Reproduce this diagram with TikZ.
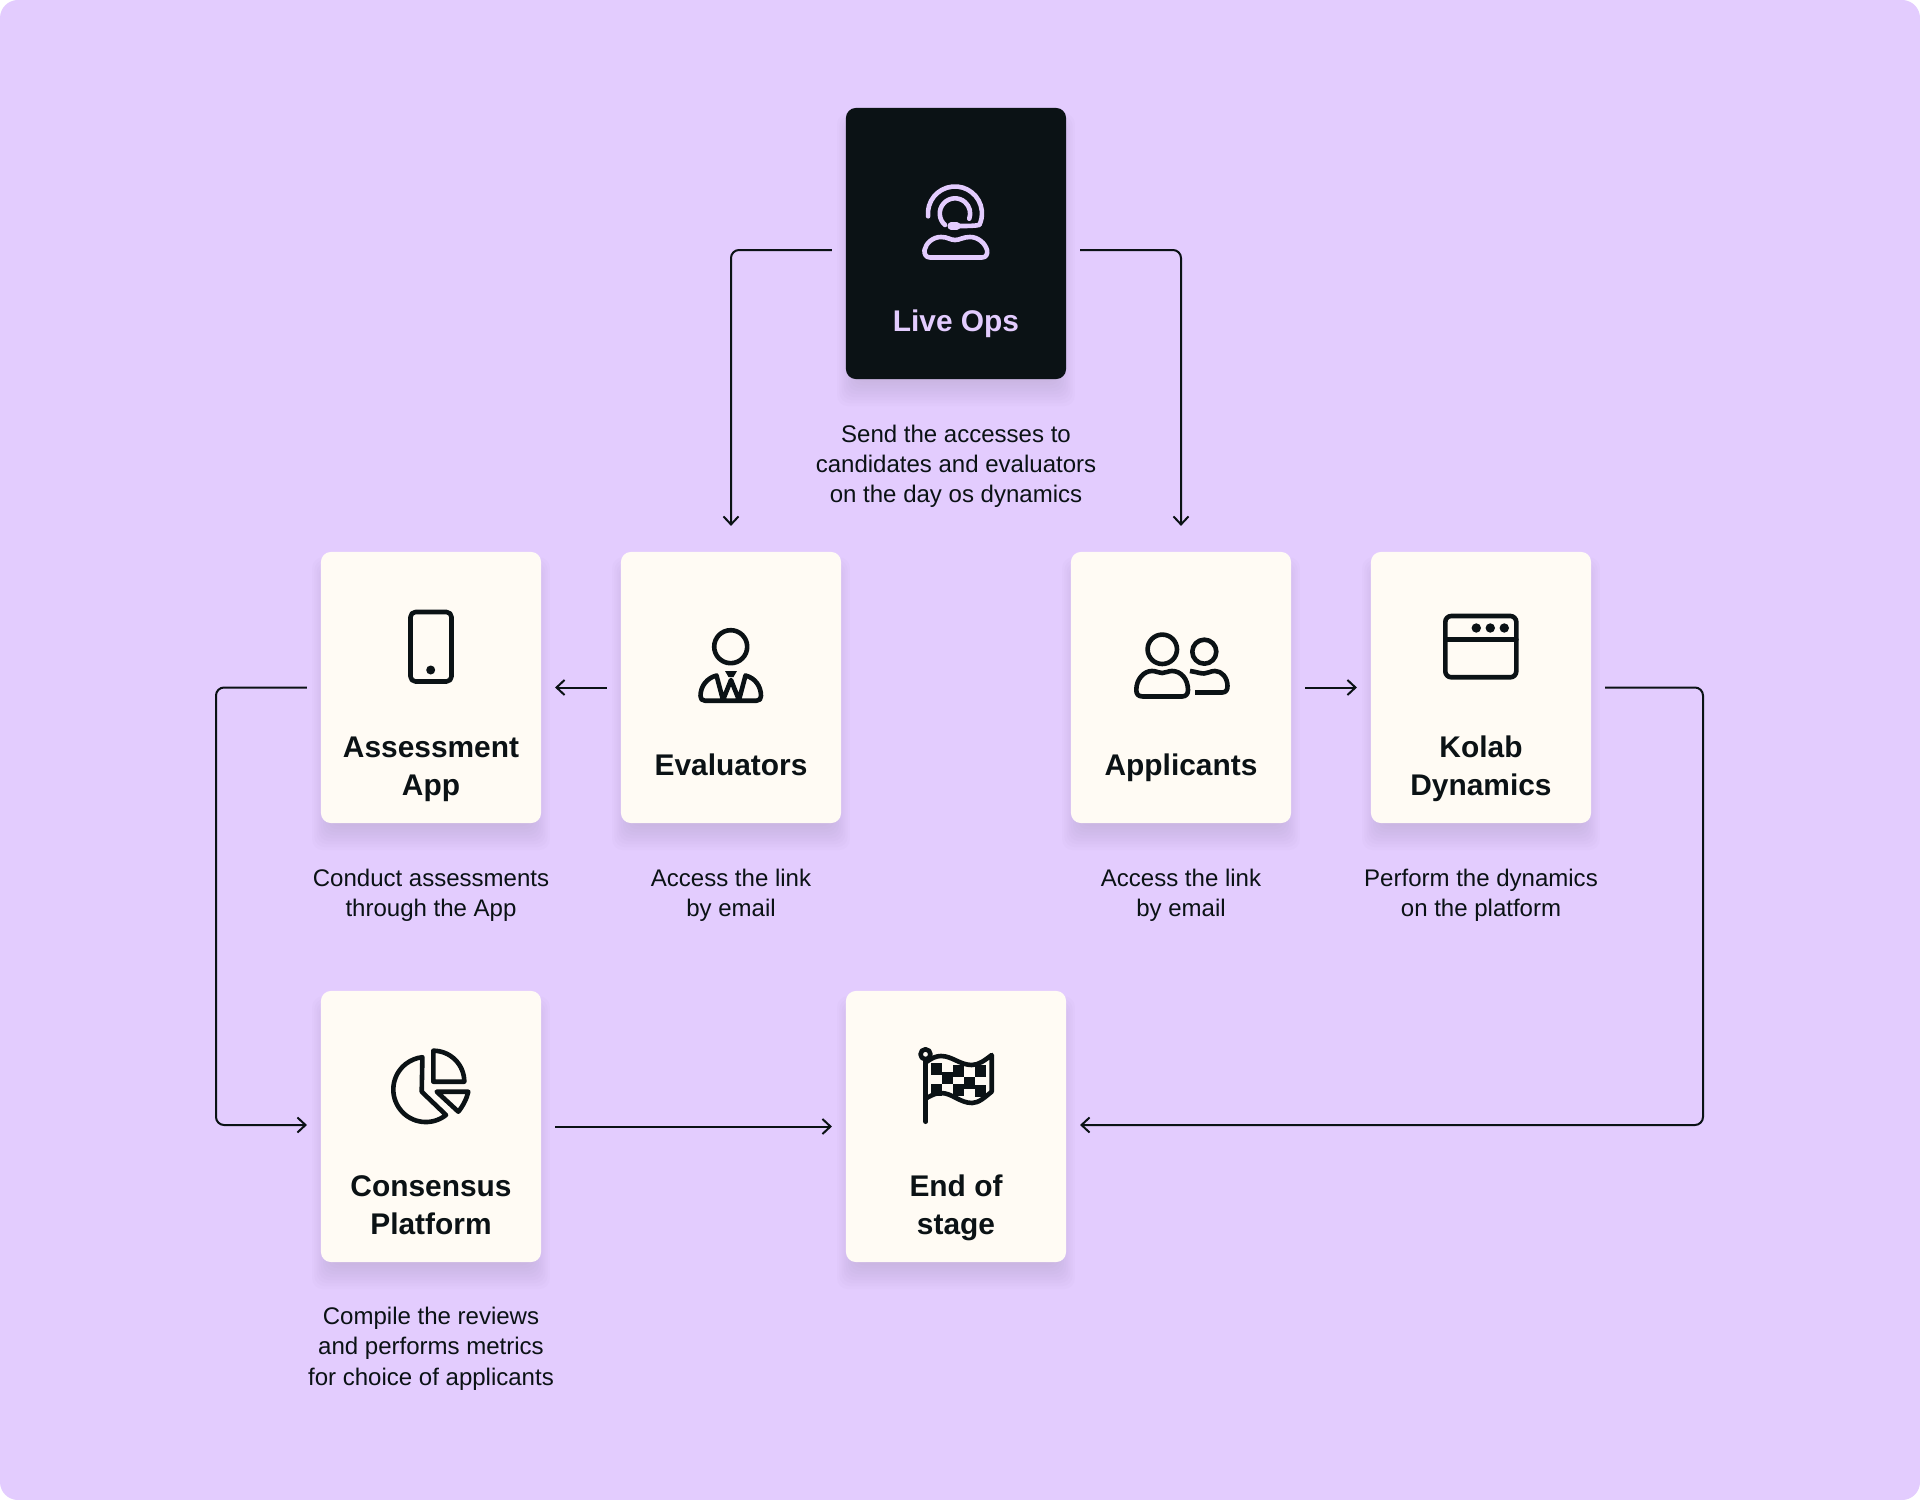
\documentclass[tikz,border=0pt]{standalone}
\usepackage{fontspec}
\setmainfont{Liberation Sans}
\usetikzlibrary{arrows.meta,shadows}
\definecolor{pagecol}{HTML}{E3CCFE}
\definecolor{cardcol}{HTML}{FFFBF4}
\definecolor{inkcol}{HTML}{0B1215}
\colorlet{shadowcol}{black!30!pagecol}
\tikzset{
  cardshadow/.style={general shadow={fill=shadowcol, opacity=0.04, shadow yshift=-0.15cm, shadow scale=#1}},
  card/.style={fill=cardcol, rounded corners=0.1cm, minimum width=2.2cm, minimum height=2.71cm,
    inner sep=0pt, outer xsep=0.14cm, outer ysep=0.26cm,
    cardshadow=1.08, cardshadow=1.06, cardshadow=1.04, cardshadow=1.02, cardshadow=1,
    cardshadow=0.98, cardshadow=0.96, cardshadow=0.94, cardshadow=0.92, cardshadow=0.9},
  darkcard/.style={card, fill=inkcol},
  cardlabel/.style={font=\fontsize{8.5pt}{10.8pt}\selectfont\bfseries, text=inkcol, align=center, anchor=base},
  cardnote/.style={font=\fontsize{6.83pt}{8.54pt}\selectfont, text=inkcol, align=center, anchor=base},
  link/.style={draw=inkcol, line width=0.02cm, rounded corners=0.08cm, -{Straight Barb[length=0.08cm, width=0.15cm]}},
  icon/.style={draw=inkcol, line width=0.046cm, line cap=round, line join=round},
}

\begin{document}
\begin{tikzpicture}[x=0.01cm, y=-0.01cm]

  % Page.
  \useasboundingbox (0,0) rectangle (1920,1500);
  \fill[white] (0,0) rectangle (1920,1500);
  \fill[pagecol, rounded corners=0.18cm] (0,0) rectangle (1920,1500);

  % Cards.
  \node[darkcard] (liveops) at (956,243.5) {};
  \node[card] (assessment) at (431,687.5) {};
  \node[card] (evaluators) at (731,687.5) {};
  \node[card] (applicants) at (1181,687.5) {};
  \node[card] (kolab) at (1481,687.5) {};
  \node[card] (consensus) at (431,1126.5) {};
  \node[card] (endstage) at (956,1126.5) {};

  % Card labels, placed by the base line of their last row.
  \node[cardlabel, text=pagecol] (liveopslabel) at (956,332) {Live Ops};
  \node[cardlabel] (assessmentlabel) at (431,795) {Assessment\\App};
  \node[cardlabel] (evaluatorslabel) at (731,775.5) {Evaluators};
  \node[cardlabel] (applicantslabel) at (1181,775.5) {Applicants};
  \node[cardlabel] (kolablabel) at (1481,795) {Kolab\\Dynamics};
  \node[cardlabel] (consensuslabel) at (431,1234) {Consensus\\Platform};
  \node[cardlabel] (endstagelabel) at (956,1234) {End of\\stage};

  % Notes under the cards.
  \node[cardnote] (liveopsnote) at (956,502.5) {Send the accesses to\\candidates and evaluators\\on the day os dynamics};
  \node[cardnote] (assessmentnote) at (431,916.5) {Conduct assessments\\through the App};
  \node[cardnote] (evaluatorsnote) at (731,916.5) {Access the link\\by email};
  \node[cardnote] (applicantsnote) at (1181,916.5) {Access the link\\by email};
  \node[cardnote] (kolabnote) at (1481,916.5) {Perform the dynamics\\on the platform};
  \node[cardnote] (consensusnote) at (431,1385) {Compile the reviews\\and performs metrics\\for choice of applicants};

  % Connectors.
  \coordinate (leftrail) at (216,900);
  \coordinate (rightrail) at (1703,900);
  \draw[link] ([yshift=-0.065cm]liveops.west) -| (evaluators.north);
  \draw[link] ([yshift=-0.065cm]liveops.east) -| (applicants.north);
  \draw[link] (evaluators.west) -- (assessment.east);
  \draw[link] (applicants.east) -- (kolab.west);
  \draw[link] (assessment.west) -| (leftrail) |- ([yshift=0.015cm]consensus.west);
  \draw[link] (consensus.east) -- (endstage.west);
  \draw[link] (kolab.east) -| (rightrail) |- ([yshift=0.015cm]endstage.east);

  % Icon: headset.
  \draw[icon, draw=pagecol] (928.1,216.3) arc (174:385:27) .. controls (975,226) and (968,226) .. (958,226);
  \draw[icon, draw=pagecol] (945,225) arc (131:380:15.2);
  \draw[icon, draw=pagecol, line width=0.07cm] (951,226) -- (957,226);
  \draw[icon, draw=pagecol] (930,257.5) -- (982,257.5) .. controls (986,257.5) and (988,254) .. (987,250)
    .. controls (985,243) and (978,237) .. (970,237) .. controls (963,237) and (960,240) .. (955,240)
    .. controls (950,240) and (948,237) .. (941,237) .. controls (933,237) and (926,243) .. (924.5,250)
    .. controls (924,254) and (926,257.5) .. (930,257.5) -- cycle;

  % Icon: phone.
  \draw[icon, rounded corners=0.05cm] (410.5,612) rectangle (451.5,681.5);
  \fill[inkcol] (430.7,670) circle (4.5);

  % Icon: evaluator.
  \draw[icon] (730.7,646.7) circle (16.5);
  \draw[icon] (716.5,675.5) .. controls (707,678) and (700.5,686) .. (700.5,696) .. controls (700.5,699) and (702,700.7) .. (705,700.7)
    -- (756.5,700.7) .. controls (759.5,700.7) and (761,699) .. (761,696) .. controls (761,686) and (755,678) .. (745.5,675.5)
    -- (739,700) -- (731,680) -- (723,700) -- cycle;
  \fill[inkcol] (725,671) -- (737,671) -- (733.5,677) -- (728.5,677) -- cycle;

  % Icon: applicants.
  \draw[icon] (1162.3,649.3) circle (14.7);
  \draw[icon] (1204.3,651.7) circle (12);
  \draw[icon] (1143,696.5) .. controls (1138,696.5) and (1136.3,694) .. (1136.3,690) .. controls (1136.3,679) and (1144,671) .. (1152,671)
    .. controls (1157,671) and (1158,673) .. (1162,673) .. controls (1166,673) and (1168,671) .. (1172,671)
    .. controls (1181,671) and (1188,679) .. (1188,690) .. controls (1188,694) and (1186,696.5) .. (1182,696.5) -- cycle;
  \draw[icon, line cap=butt] (1190,671) .. controls (1197,672) and (1200,673.5) .. (1204,673.5) .. controls (1208,673.5) and (1210,671) .. (1215,671)
    .. controls (1222,671) and (1227.5,678) .. (1227.5,686) .. controls (1227.5,690) and (1226,692.5) .. (1222,692.5) -- (1195,692.5);

  % Icon: window.
  \draw[icon, rounded corners=0.06cm] (1445.3,616) rectangle (1516.3,677.3);
  \draw[icon] (1445.3,639.3) -- (1516.3,639.3);
  \foreach \dotx in {1476.3,1490.3,1504.3} {
    \fill[inkcol] (\dotx,628) circle (4.7);
  }

  % Icon: pie chart.
  \draw[icon] (433.3,1050.7) arc (270:360:31) -- (433.3,1081.7) -- cycle;
  \draw[icon] (446,1115) arc (51.6:264:32.5) -- (421.7,1091.7) -- cycle;
  \draw[icon] (436.7,1091.7) -- (468.3,1091.7) .. controls (467,1098) and (463,1106) .. (458.3,1111.7) -- cycle;

  % Icon: flag.
  \draw[icon] (925.5,1054.3) circle (5);
  \draw[icon] (925.7,1060) -- (925.7,1121.7);
  \draw[icon] (926,1062.3) .. controls (932,1058) and (936,1056) .. (941,1056) .. controls (952,1056) and (960,1065) .. (971.7,1065)
    .. controls (979,1065) and (985,1060) .. (991.7,1055) -- (991.7,1091.7) .. controls (985,1097) and (979,1103) .. (972,1103)
    .. controls (960,1103) and (952,1093) .. (941,1093) .. controls (936,1093) and (932,1095) .. (926.7,1098);
  \foreach \cellx/\celly in {930.7/1063, 930.7/1084, 941.7/1072, 952.7/1065, 952.7/1084, 964/1077, 975/1065, 975/1085} {
    \fill[inkcol] (\cellx,\celly) rectangle ++(11,11.5);
  }

\end{tikzpicture}
\end{document}
